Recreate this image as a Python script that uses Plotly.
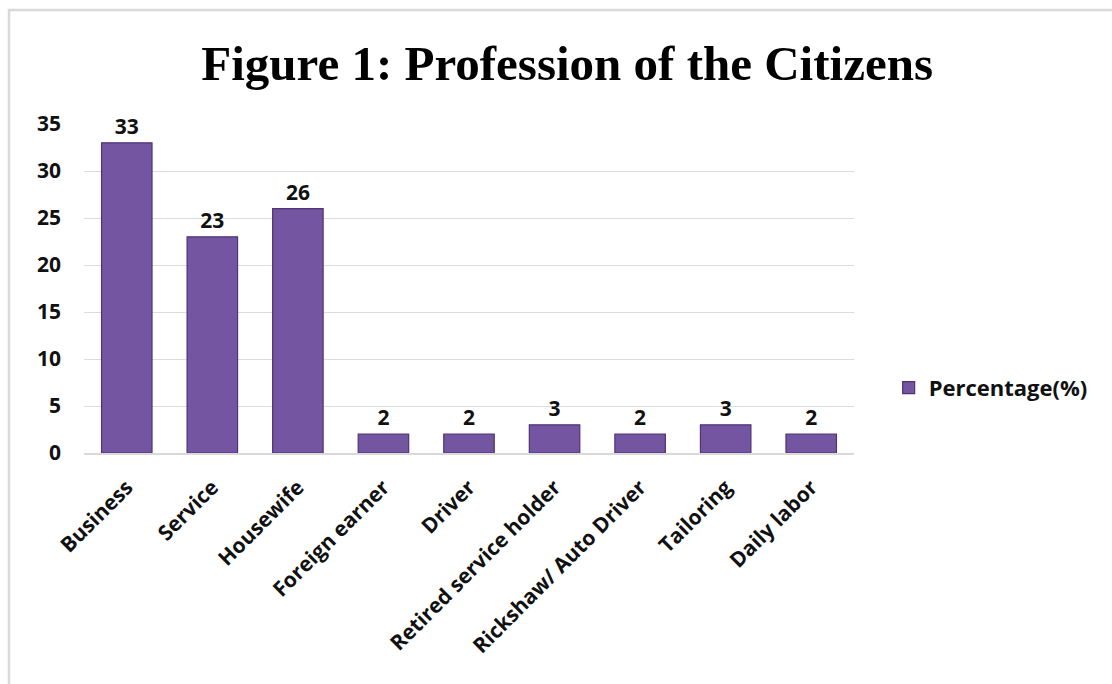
import plotly.graph_objects as go

# Profession shares of surveyed citizens
professions = [
    "Business", "Service", "Housewife", "Foreign earner", "Driver",
    "Retired service holder", "Rickshaw/ Auto Driver", "Tailoring", "Daily labor",
]
percentages = [33, 23, 26, 2, 2, 3, 2, 3, 2]
y_ticks = [0, 5, 10, 15, 20, 25, 30, 35]

BAR_FILL = "#7455a2"
BAR_EDGE = "#4e3575"
LABEL_FONT = "Open Sans"
INK = "#111111"

fig = go.Figure()
fig.add_trace(go.Bar(
    x=professions,
    y=percentages,
    name="Percentage(%)",
    width=0.59,
    marker=dict(color=BAR_FILL, line=dict(color=BAR_EDGE, width=1.2)),
    text=[str(v) for v in percentages],
    textposition="outside",
    textfont=dict(family=LABEL_FONT, size=21, color=INK, weight="bold"),
    cliponaxis=False,
))

fig.update_layout(
    width=1112,
    height=684,
    margin=dict(l=84, r=258, t=124, b=231),
    paper_bgcolor="white",
    plot_bgcolor="white",
    title=dict(
        text="<b>Figure 1: Profession of the Citizens</b>",
        font=dict(family="Liberation Serif", size=49, color="#000000"),
        x=0.51, xanchor="center",
        y=0.908, yanchor="middle",
    ),
    showlegend=True,
    legend=dict(
        x=1.045, xanchor="left",
        y=0.198, yanchor="middle",
        font=dict(family=LABEL_FONT, size=22, color=INK, weight="bold"),
        itemwidth=30,
        bgcolor="rgba(0,0,0,0)",
    ),
    font=dict(family=LABEL_FONT),
)

fig.update_xaxes(
    type="category",
    tickangle=-45,
    tickfont=dict(family=LABEL_FONT, size=21, color=INK, weight="bold"),
    showline=True, linecolor="#d9d9d9", linewidth=1.5,
    showgrid=False, ticks="",
    ticklabelstandoff=12,
)

fig.update_yaxes(
    range=[0, 35],
    tickvals=y_ticks,
    tickfont=dict(family=LABEL_FONT, size=21, color=INK, weight="bold"),
    showgrid=True, gridcolor="#dcdcdc", gridwidth=1.2,
    zeroline=False, showline=False, ticks="",
    ticklabelstandoff=22,
)

# Light frame around the chart area
fig.add_shape(
    type="rect", xref="paper", yref="paper",
    x0=(9 - 84) / 770, x1=1.5, y0=-1.5, y1=(453 - 10) / 329,
    line=dict(color="#d9d9d9", width=2.5), layer="below",
)

fig.write_html("out.html")
